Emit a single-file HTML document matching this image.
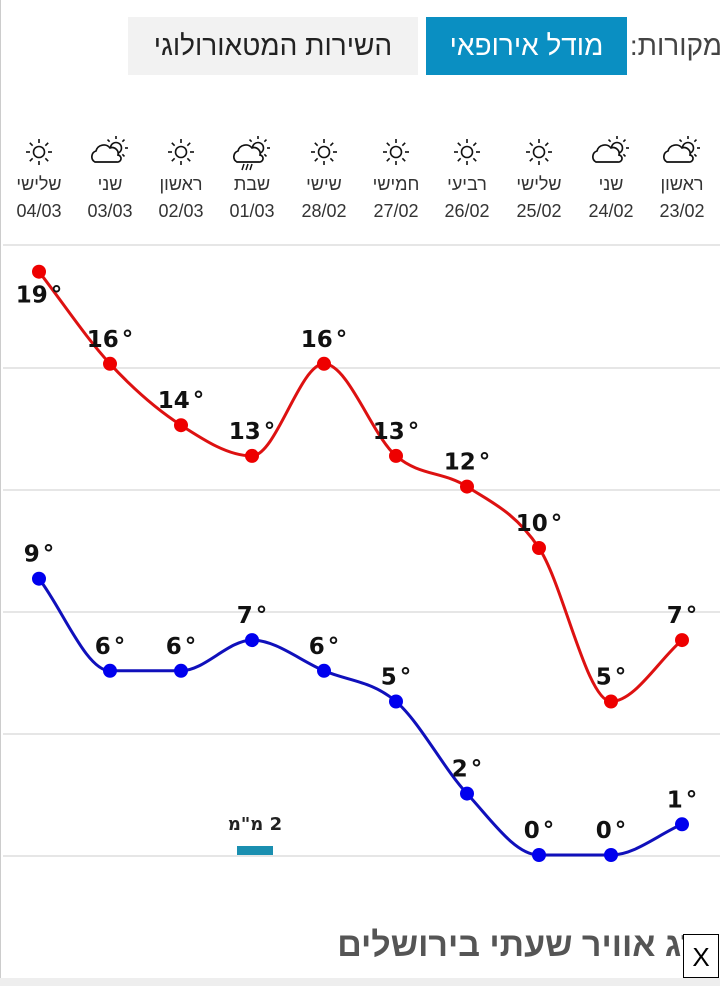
<!DOCTYPE html>
<html><head><meta charset="utf-8"><style>
body{margin:0;width:720px;height:986px;background:#fff;position:relative;overflow:hidden;font-family:"Liberation Sans","DejaVu Sans",sans-serif;}
.a{position:absolute}
.btn{position:absolute;top:17px;height:58px;line-height:58px;font-size:28px;text-align:center;direction:rtl}
.col{position:absolute;width:72px;text-align:center;color:#333;font-size:18px;direction:rtl}
</style></head><body>
<div class="a" style="left:0;top:0;width:1px;height:986px;background:#ccc"></div>
<div class="btn" style="left:128px;width:290px;background:#f2f2f2;color:#222">השירות המטאורולוגי</div>
<div class="btn" style="left:426px;width:201px;background:#0a8fc2;color:#fff">מודל אירופאי</div>
<div class="btn" style="left:630px;width:92px;color:#444;text-align:right">מקורות:</div>
<div id="cols"></div>
<svg class="a" style="left:0;top:0" width="720" height="986" id="s"></svg>
<div class="a" style="left:0;top:978px;width:720px;height:8px;background:#eee"></div>
<div class="a" style="left:300px;top:926px;width:418px;text-align:right;font-size:34px;font-weight:bold;color:#555;direction:rtl;white-space:nowrap;overflow:hidden">מזג אוויר שעתי בירושלים</div>
<div class="a" style="left:683px;top:934px;width:34px;height:42px;border:1px solid #000;background:#fff;font-size:26px;line-height:44px;text-align:center">X</div>
<script>
var xs=[39,110,181,252,324,396,467,539,611,682];
var days=["שלישי","שני","ראשון","שבת","שישי","חמישי","רביעי","שלישי","שני","ראשון"];
var dates=["04/03","03/03","02/03","01/03","28/02","27/02","26/02","25/02","24/02","23/02"];
var types=["s","c","s","r","s","s","s","s","c","c"];
var h="";
for(var i=0;i<10;i++){
h+='<div class="col" style="left:'+(xs[i]-36)+'px;top:174px">'+days[i]+'</div>';
h+='<div class="col" style="left:'+(xs[i]-36)+'px;top:201px">'+dates[i]+'</div>';}
document.getElementById('cols').innerHTML=h;
function sun(cx,cy,r,R1,R2){var s='<circle cx="'+cx+'" cy="'+cy+'" r="'+r+'" fill="#fff" stroke="#111" stroke-width="1.6"/>';
for(var k=0;k<8;k++){var a=k*Math.PI/4;s+='<line x1="'+(cx+R1*Math.cos(a))+'" y1="'+(cy+R1*Math.sin(a))+'" x2="'+(cx+R2*Math.cos(a))+'" y2="'+(cy+R2*Math.sin(a))+'" stroke="#111" stroke-width="1.6"/>';}return s;}
function cloud(cx,cy){return '<path d="M'+(cx-13)+','+(cy+9)+' a6,6 0 0 1 1,-11 a8,8 0 0 1 14,-3 a6,6 0 0 1 8,7 a3,3 0 0 1 -1,7 z" fill="#fff" stroke="#111" stroke-width="1.7"/>';}
var g="";
for(i=0;i<10;i++){var x=xs[i],y=152;
if(types[i]=="s")g+=sun(x,y,5.5,9,13);
else{g+=sun(x+6,y-4,5.5,9,12);g+=cloud(x-2,y+1);if(types[i]=="r"){for(var k=0;k<3;k++)g+='<line x1="'+(x-8+k*4)+'" y1="'+(y+12)+'" x2="'+(x-10+k*4)+'" y2="'+(y+18)+'" stroke="#111" stroke-width="1.5"/>';}}}
var hi=[19,16,14,13,16,13,12,10,5,7],lo=[9,6,6,7,6,5,2,0,0,1];
function Y(t){return 855-t*30.7;}
function path(v){var p=v.map(function(t,i){return [xs[i],Y(t)]});var n=p.length,m=[];
var d=[];for(var i=0;i<n-1;i++)d.push((p[i+1][1]-p[i][1])/(p[i+1][0]-p[i][0]));
for(i=0;i<n;i++){if(i==0)m.push(d[0]);else if(i==n-1)m.push(d[n-2]);else m.push(d[i-1]*d[i]<=0?0:(d[i-1]+d[i])/2);}
var s="M"+p[0][0]+","+p[0][1];for(i=0;i<n-1;i++){var dx=(p[i+1][0]-p[i][0])/3;
s+=" C"+(p[i][0]+dx)+","+(p[i][1]+m[i]*dx)+" "+(p[i+1][0]-dx)+","+(p[i+1][1]-m[i+1]*dx)+" "+p[i+1][0]+","+p[i+1][1];}return s;}
[245,368,490,612,734,856].forEach(function(y){g+='<line x1="3" x2="720" y1="'+y+'" y2="'+y+'" stroke="#e6e6e6" stroke-width="2"/>';});
g+='<rect x="237" y="846" width="36" height="9" fill="#1a8fb0"/><text x="255" y="830" text-anchor="middle" direction="rtl" font-size="18" font-weight="bold" fill="#222" font-family="DejaVu Sans">2 מ"מ</text>';
g+='<path d="'+path(hi)+'" fill="none" stroke="#dd1111" stroke-width="3"/><path d="'+path(lo)+'" fill="none" stroke="#1010bb" stroke-width="3"/>';
function lab(x,y,t){return '<text x="'+x+'" y="'+y+'" text-anchor="middle" font-size="23" font-weight="bold" fill="#111" font-family="DejaVu Sans">'+t+'<tspan dx="3">°</tspan></text>';}
for(i=0;i<10;i++){g+='<circle cx="'+xs[i]+'" cy="'+Y(hi[i])+'" r="7" fill="#ee0000"/><circle cx="'+xs[i]+'" cy="'+Y(lo[i])+'" r="7" fill="#0000ee"/>';
var ty=i==0?Y(hi[i])+31:Y(hi[i])-17;
g+=lab(xs[i],ty,hi[i]);g+=lab(xs[i],Y(lo[i])-17,lo[i]);}
document.getElementById('s').innerHTML=g;
</script>
</body></html>
